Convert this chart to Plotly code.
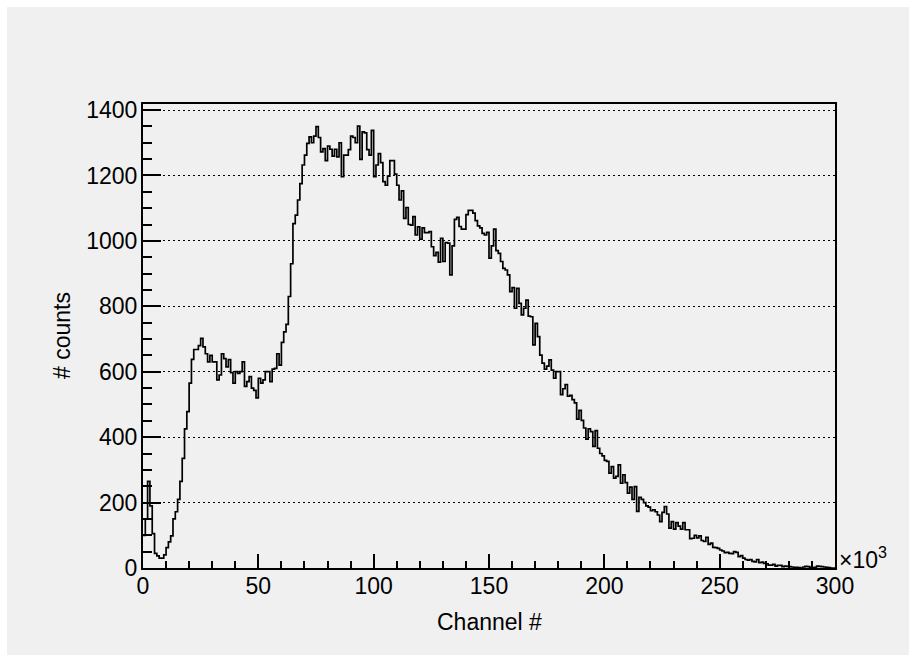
import numpy as np
import plotly.graph_objects as go

# Histogram: 300 bins, channel in units of 10^3
counts_0_62 = [100, 150, 265, 190, 105, 45, 37, 30, 30, 40,
               62, 80, 98, 150, 172, 210, 265, 335, 425, 478,
               565, 638, 668, 668, 680, 702, 676, 655, 630, 650,
               630, 630, 575, 590, 655, 640, 615, 637, 597, 565,
               600, 595, 600, 630, 555, 570, 585, 550, 543, 520,
               580, 565, 575, 600, 600, 570, 608, 610, 655, 620,
               690, 722, 745]
counts_63_126 = [830, 930, 1053, 1079, 1125, 1175, 1232, 1262, 1298, 1318,
                 1300, 1320, 1349, 1316, 1272, 1282, 1245, 1290, 1280, 1259,
                 1280, 1257, 1300, 1196, 1262, 1262, 1279, 1320, 1316, 1300,
                 1351, 1249, 1333, 1330, 1279, 1262, 1338, 1196, 1232, 1267,
                 1239, 1181, 1170, 1198, 1245, 1245, 1204, 1170, 1125, 1153,
                 1069, 1102, 1050, 1048, 1074, 1018, 1043, 1005, 1040, 1025,
                 1025, 1028, 982, 955]
counts_127_190 = [965, 935, 1008, 937, 995, 993, 896, 985, 1066, 1072,
                  1044, 1036, 1036, 1080, 1093, 1093, 1085, 1062, 1046, 1040,
                  1023, 1018, 1026, 947, 985, 1036, 970, 962, 937, 916,
                  911, 896, 845, 857, 794, 855, 809, 774, 794, 819,
                  770, 768, 682, 748, 707, 651, 626, 608, 617, 636,
                  605, 580, 600, 600, 530, 548, 561, 525, 528, 515,
                  505, 455, 482, 451]
counts_191_251 = [428, 394, 425, 417, 372, 420, 366, 350, 343, 329,
                  326, 290, 310, 275, 280, 315, 259, 285, 261, 229,
                  247, 210, 249, 173, 216, 210, 200, 190, 186, 175,
                  178, 172, 162, 142, 170, 188, 165, 122, 142, 119,
                  139, 128, 119, 139, 117, 117, 90, 91, 100, 92,
                  98, 84, 81, 94, 72, 76, 63, 62, 60, 55,
                  52]
counts_252_299 = [47, 48, 45, 44, 50, 48, 35, 38, 30, 26,
                  24, 26, 20, 19, 26, 16, 18, 14, 13, 9,
                  9, 11, 6, 8, 8, 4, 6, 5, 4, 3,
                  2, 2, 1, 0, 3, 5, 4, 2, 1, 2,
                  6, 5, 4, 3, 2, 1, 0, 0]

counts = counts_0_62 + counts_63_126 + counts_127_190 + counts_191_251 + counts_252_299
x_min, x_max = 0, 300
n_bins = len(counts)
edges = np.linspace(x_min, x_max, n_bins + 1)
y_steps = counts + [counts[-1]]

y_ticks = [0, 200, 400, 600, 800, 1000, 1200, 1400]
x_ticks = [0, 50, 100, 150, 200, 250, 300]

font = "Liberation Sans, Arial, Helvetica, sans-serif"
fig = go.Figure()
fig.add_trace(go.Scatter(x=edges, y=y_steps, mode="lines",
                         line=dict(shape="hv", color="black", width=1.7),
                         hoverinfo="skip", showlegend=False))

L, R, T, B = 143, 81, 104, 94
W, H = 916, 662
pw, ph = W - L - R, H - T - B

def px2paper_x(px):
    return (px - L) / pw

def px2paper_y(py):
    return (H - B - py) / ph

fig.add_shape(type="rect", xref="paper", yref="paper", layer="below",
              x0=px2paper_x(7), x1=px2paper_x(909), y0=px2paper_y(655), y1=px2paper_y(7),
              fillcolor="#f0f0f0", line=dict(width=0))

fig.update_layout(
    width=W, height=H,
    margin=dict(l=L, r=R, t=T, b=B, pad=0),
    paper_bgcolor="white", plot_bgcolor="rgba(0,0,0,0)",
    font=dict(family=font, size=23, color="black"),
    showlegend=False,
)
fig.update_xaxes(range=[x_min, x_max], tickvals=x_ticks, ticktext=[str(v) for v in x_ticks],
                 ticks="inside", ticklen=14, tickwidth=1.5, tickcolor="black",
                 showline=True, linecolor="black", linewidth=2, mirror=True,
                 showgrid=False, zeroline=False, ticklabelstandoff=-4,
                 minor=dict(dtick=10, ticks="inside", ticklen=7, tickwidth=1.5, tickcolor="black", showgrid=False))
fig.update_yaxes(range=[0, 1418.4], tickvals=y_ticks, ticktext=[str(v) for v in y_ticks],
                 ticks="inside", ticklen=18, tickwidth=1.5, tickcolor="black",
                 showline=True, linecolor="black", linewidth=2, mirror=True,
                 showgrid=True, gridcolor="black", gridwidth=1.3, griddash="1.5px,3.5px",
                 zeroline=False, ticklabelstandoff=-1,
                 minor=dict(dtick=50, ticks="inside", ticklen=9, tickwidth=1.5, tickcolor="black", showgrid=False))

fig.add_annotation(text="Channel #", xref="paper", yref="paper", x=0.5, y=px2paper_y(622),
                   xanchor="center", yanchor="middle", showarrow=False, font=dict(size=23))
fig.add_annotation(text="# counts", xref="paper", yref="paper", x=px2paper_x(62), y=0.5,
                   xanchor="center", yanchor="middle", textangle=-90, showarrow=False, font=dict(size=23))
fig.add_annotation(text="×10<sup>3</sup>", xref="paper", yref="paper", x=px2paper_x(837), y=px2paper_y(558),
                   xanchor="left", yanchor="middle", showarrow=False, font=dict(size=23))

fig.write_html("out.html")
